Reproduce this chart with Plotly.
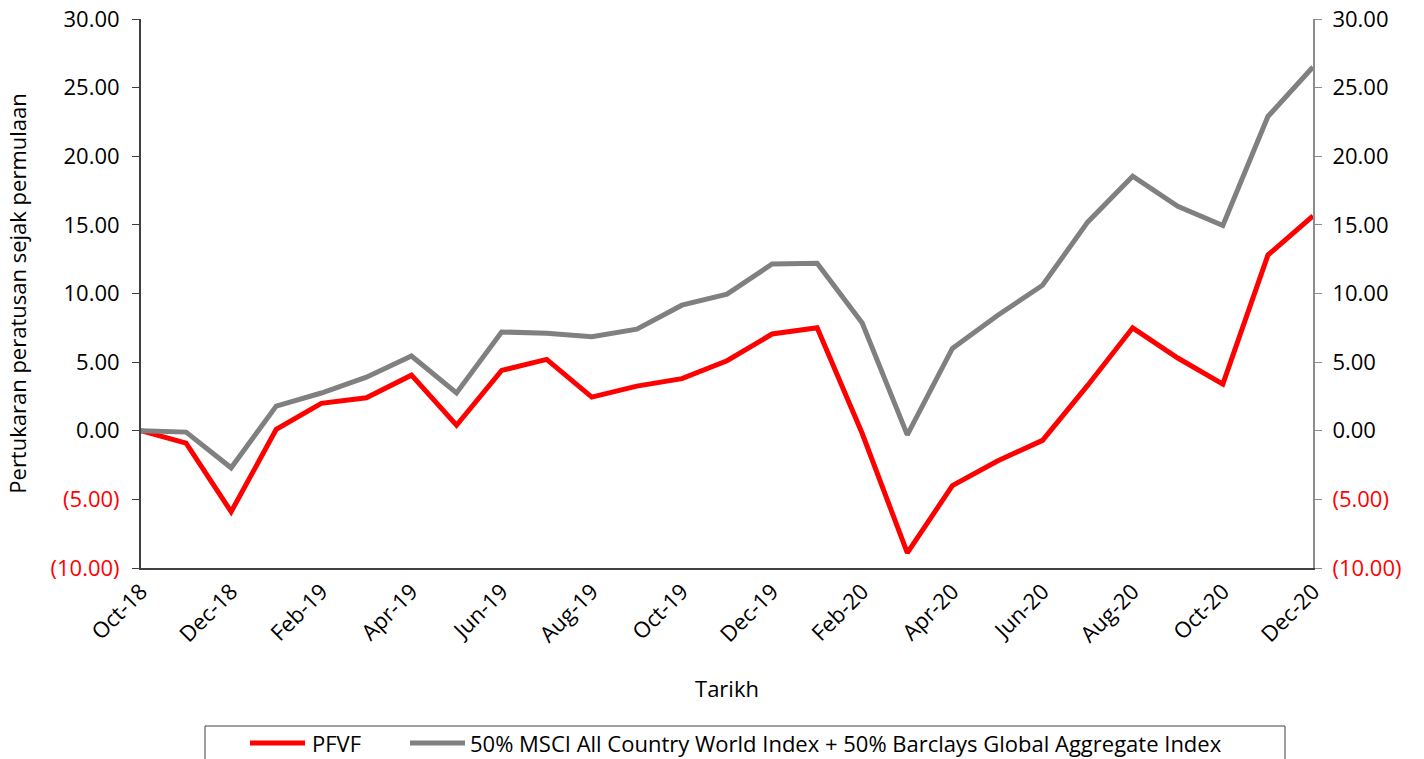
import plotly.graph_objects as go

months = ["Oct-18","Nov-18","Dec-18","Jan-19","Feb-19","Mar-19","Apr-19","May-19","Jun-19",
          "Jul-19","Aug-19","Sep-19","Oct-19","Nov-19","Dec-19","Jan-20","Feb-20","Mar-20",
          "Apr-20","May-20","Jun-20","Jul-20","Aug-20","Sep-20","Oct-20","Nov-20","Dec-20"]
pfvf = [0.0,-0.9,-5.9,0.1,2.0,2.4,4.05,0.4,4.4,5.2,2.45,3.25,3.8,5.1,7.05,7.5,-0.2,-8.9,
        -4.0,-2.2,-0.7,3.3,7.5,5.3,3.4,12.8,15.65]
bench = [0.0,-0.1,-2.7,1.8,2.75,3.9,5.45,2.75,7.2,7.1,6.85,7.4,9.15,9.95,12.15,12.2,7.85,-0.3,
         6.0,8.4,10.6,15.2,18.55,16.35,14.95,22.9,26.5]
series_names = ["PFVF",
                "50% MSCI All Country World Index + 50% Barclays Global Aggregate Index"]
series_colors = ["#ff0000", "#808080"]
xtick_labels = months[::2]
ytick_vals = [30,25,20,15,10,5,0,-5,-10]

def fmt(v):
    if v < 0:
        return f"<span style='color:#ff0000'>({abs(v):.2f})</span>"
    return f"{v:.2f}"
ytick_text = [fmt(v) for v in ytick_vals]

FONT = "Open Sans, Noto Sans, sans-serif"

fig = go.Figure()
for name, ys, col in zip(series_names, [pfvf, bench], series_colors):
    fig.add_trace(go.Scatter(x=months, y=ys, name=name, mode="lines",
                             line=dict(color=col, width=5), showlegend=False))
# dummy trace for right axis
fig.add_trace(go.Scatter(x=months, y=bench, yaxis="y2", mode="lines",
                         line=dict(width=0, color="rgba(0,0,0,0)"),
                         showlegend=False, hoverinfo="skip"))

W, H = 1424, 759
L, R, T, B = 141, 111, 19, 191
pw, ph = W - L - R, H - T - B
def px2x(p): return (p - L) / pw
def px2y(p): return (H - B - p) / ph

# custom legend (box, line samples, labels)
shapes = [dict(type="rect", xref="paper", yref="paper",
               x0=px2x(205), x1=px2x(1285), y0=px2y(726), y1=px2y(790),
               line=dict(color="#404040", width=1), fillcolor="rgba(0,0,0,0)", layer="below")]
annotations = []
leg_y = 743
for (lx0, lx1, tx), name, col in zip([(250, 305, 310), (410, 465, 468)], series_names, series_colors):
    shapes.append(dict(type="line", xref="paper", yref="paper",
                       x0=px2x(lx0), x1=px2x(lx1), y0=px2y(leg_y), y1=px2y(leg_y),
                       line=dict(color=col, width=5)))
    annotations.append(dict(text=name, xref="paper", yref="paper", x=px2x(tx), y=px2y(leg_y),
                            xanchor="left", yanchor="middle", showarrow=False,
                            font=dict(family=FONT, size=22, color="#000000")))

fig.update_layout(
    width=W, height=H,
    margin=dict(l=L, r=R, t=T, b=B, autoexpand=False),
    paper_bgcolor="white", plot_bgcolor="white",
    font=dict(family=FONT, size=22, color="#000000"),
    xaxis=dict(type="category", range=[0, len(months) - 1], automargin=False,
               tickmode="array", tickvals=xtick_labels, ticktext=xtick_labels,
               tickangle=-45, showgrid=False, showline=True, linecolor="#404040",
               linewidth=2, ticks="", zeroline=False,
               title=dict(text="Tarikh", standoff=35, font=dict(size=22))),
    yaxis=dict(range=[-10, 30], tickmode="array", tickvals=ytick_vals, ticktext=ytick_text,
               automargin=False, ticklabelstandoff=8,
               showgrid=False, zeroline=False, showline=True, linecolor="#404040", linewidth=2,
               ticks="outside", ticklen=7, tickcolor="#404040",
               title=dict(text="Pertukaran peratusan sejak permulaan", standoff=18,
                          font=dict(size=22))),
    yaxis2=dict(range=[-10, 30], overlaying="y", side="right", tickmode="array",
                automargin=False, ticklabelstandoff=6,
                tickvals=ytick_vals, ticktext=ytick_text, showgrid=False, zeroline=False,
                showline=True, linecolor="#8c8c8c", linewidth=2, ticks="outside",
                ticklen=7, tickcolor="#8c8c8c"),
    shapes=shapes,
    annotations=annotations,
    showlegend=False,
)

fig.write_html("out.html", config={"displayModeBar": False},
               post_script="document.body.style.margin='0';document.body.style.overflow='hidden';")
